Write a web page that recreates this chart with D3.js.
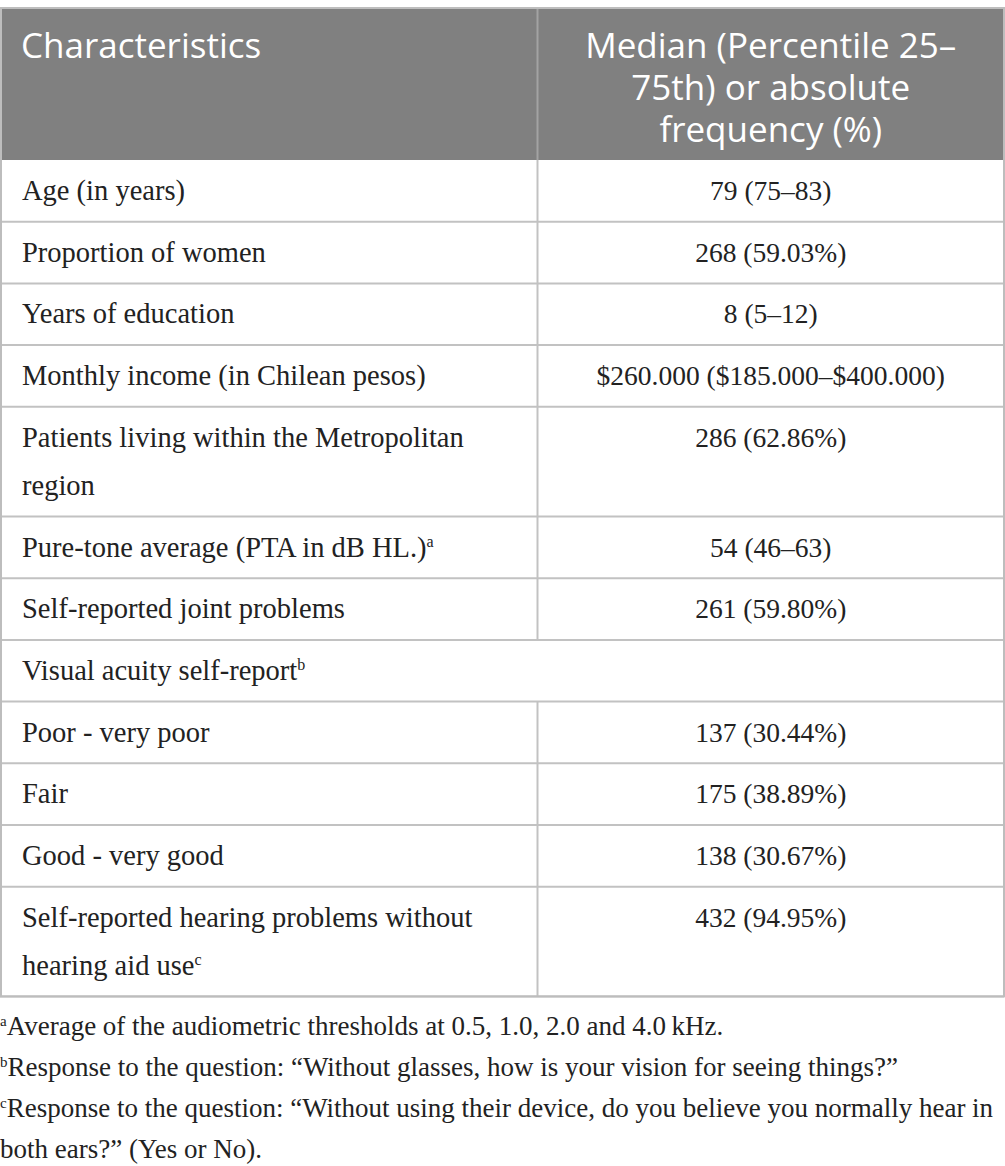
<!DOCTYPE html>
<html>
<head>
<meta charset="utf-8">
<script src="https://cdn.jsdelivr.net/npm/d3@7"></script>
<style>
  body { margin: 0; background: #fff; }
  svg { display: block; }
</style>
</head>
<body>
<div id="table"></div>
<script>
// table content
var headLeft = ["Characteristics"];
var headRight = ["Median (Percentile 25–", "75th) or absolute", "frequency (%)"];

var characteristics = [
  ["Age (in years)"],
  ["Proportion of women"],
  ["Years of education"],
  ["Monthly income (in Chilean pesos)"],
  ["Patients living within the Metropolitan", "region"],
  ["Pure-tone average (PTA in dB HL.)"],
  ["Self-reported joint problems"],
  ["Visual acuity self-report"],
  ["Poor - very poor"],
  ["Fair"],
  ["Good - very good"],
  ["Self-reported hearing problems without", "hearing aid use"]
];
var noteMarks = ["", "", "", "", "", "a", "", "b", "", "", "", "c"];
var values = [
  "79 (75–83)",
  "268 (59.03%)",
  "8 (5–12)",
  "$260.000 ($185.000–$400.000)",
  "286 (62.86%)",
  "54 (46–63)",
  "261 (59.80%)",
  null,
  "137 (30.44%)",
  "175 (38.89%)",
  "138 (30.67%)",
  "432 (94.95%)"
];

var footMarks = ["a", "b", "c"];
var footnotes = [
  ["Average of the audiometric thresholds at 0.5, 1.0, 2.0 and 4.0\u2009kHz."],
  ["Response to the question: “Without glasses, how is your vision for seeing things?”"],
  ["Response to the question: “Without using their device, do you believe you normally hear in", "both ears?” (Yes or No)."]
];

var svgWidth = 1005;
var svgHeight = 1166;
var tableTop = 8, tableRight = 1004, colSplit = 537.5;
var headHeight = 152;
var lineH = 48, rowPad = 13.7;
var serif = "'Liberation Serif', 'Times New Roman', serif";
var sans = "'Open Sans', 'Noto Sans', sans-serif";

var svg = d3.select("#table")
  .append("svg")
  .attr("width", svgWidth)
  .attr("height", svgHeight);

// row layout
var rows = characteristics.map(function(lines, i) {
  return { lines: lines, mark: noteMarks[i], value: values[i], h: rowPad + lineH * lines.length };
});
var y = tableTop + headHeight;
rows.forEach(function(r) { r.y = y; y += r.h; });
var tableBottom = y;

// header
svg.append("rect")
  .attr("x", 0).attr("y", tableTop)
  .attr("width", tableRight).attr("height", headHeight)
  .attr("fill", "#808080");

svg.append("line")
  .attr("x1", colSplit).attr("x2", colSplit)
  .attr("y1", tableTop).attr("y2", tableTop + headHeight)
  .attr("stroke", "#a3a3a3").attr("stroke-width", 2);

svg.append("g").selectAll("text")
  .data(headLeft).enter().append("text")
  .attr("x", 21).attr("y", function(d, i) { return tableTop + 50 + i * 42; })
  .attr("font-family", sans).attr("font-size", 35).attr("fill", "#fff")
  .text(function(d) { return d; });

svg.append("g").selectAll("text")
  .data(headRight).enter().append("text")
  .attr("x", (colSplit + tableRight) / 2).attr("y", function(d, i) { return tableTop + 50 + i * 42; })
  .attr("text-anchor", "middle")
  .attr("font-family", sans).attr("font-size", 35).attr("fill", "#fff")
  .text(function(d) { return d; });

// body rows
var rowG = svg.append("g").selectAll("g")
  .data(rows).enter().append("g")
  .attr("transform", function(d) { return "translate(0," + d.y + ")"; });

rowG.append("line")
  .attr("x1", 0).attr("x2", tableRight)
  .attr("y1", function(d) { return d.h; }).attr("y2", function(d) { return d.h; })
  .attr("stroke", "#c2c2c2").attr("stroke-width", 2);

rowG.filter(function(d) { return d.value !== null; })
  .append("line")
  .attr("x1", colSplit).attr("x2", colSplit)
  .attr("y1", 0).attr("y2", function(d) { return d.h; })
  .attr("stroke", "#c2c2c2").attr("stroke-width", 2);

rowG.each(function(d) {
  var g = d3.select(this);
  var t = g.append("text")
    .attr("font-family", serif).attr("font-size", 28.5).attr("fill", "#222");
  d.lines.forEach(function(line, i) {
    t.append("tspan").attr("x", 22).attr("y", 40 + i * lineH).text(line);
  });
  if (d.mark) {
    t.append("tspan").attr("dy", -10).attr("font-size", 16).text(d.mark);
  }
  if (d.value !== null) {
    g.append("text")
      .attr("x", (colSplit + tableRight) / 2).attr("y", 40)
      .attr("text-anchor", "middle")
      .attr("font-family", serif).attr("font-size", 27.5).attr("fill", "#222")
      .text(d.value);
  }
});

// outer frame
svg.append("rect")
  .attr("x", 1).attr("y", tableTop)
  .attr("width", tableRight - 1).attr("height", tableBottom - tableTop)
  .attr("fill", "none").attr("stroke", "#bdbdbd").attr("stroke-width", 2);

// footnotes
var fy = tableBottom + 39;
footnotes.forEach(function(lines, i) {
  var t = svg.append("text")
    .attr("font-family", serif).attr("font-size", 27).attr("fill", "#222");
  t.append("tspan").attr("x", 0).attr("y", fy).attr("dy", -9).attr("font-size", 15).text(footMarks[i]);
  lines.forEach(function(line, j) {
    var s = t.append("tspan").attr("y", fy + j * 41).text(line);
    if (j > 0) s.attr("x", 0);
  });
  fy += 41 * lines.length;
});
</script>
</body>
</html>
